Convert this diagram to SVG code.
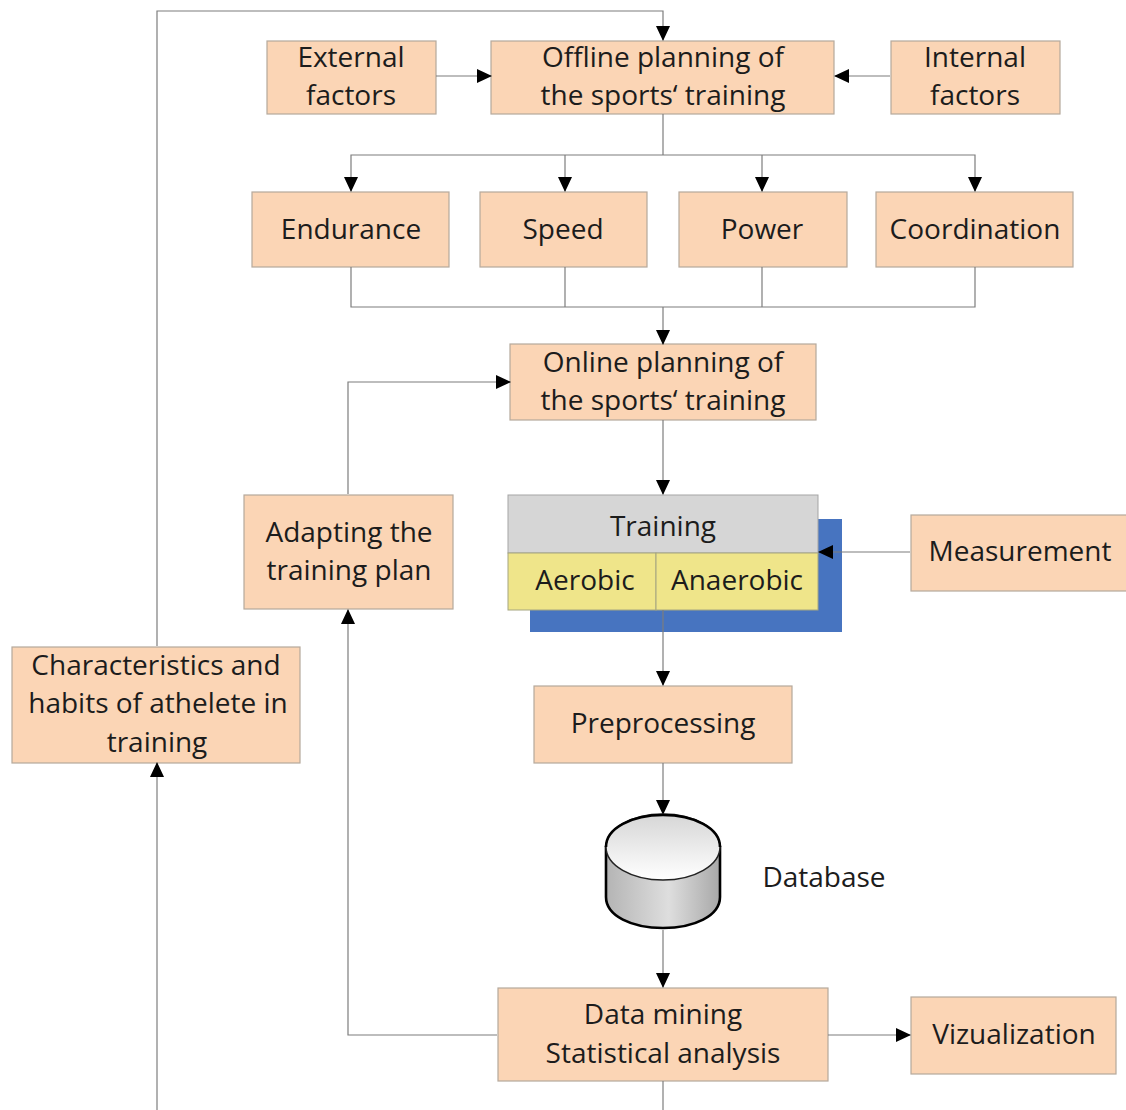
<svg xmlns="http://www.w3.org/2000/svg" width="1126" height="1110" viewBox="0 0 1126 1110">
<style>
.n{fill:#fbd5b5;stroke:#b5a99c;stroke-width:1.2}
.c{fill:none;stroke:#7d7d7d;stroke-width:1.2}
text{font-family:"Open Sans","Noto Sans","Liberation Sans",sans-serif;font-size:28px;fill:#1c1c1c;text-anchor:middle}
</style>
<defs>
<marker id="a" markerUnits="userSpaceOnUse" markerWidth="15" markerHeight="15" refX="14" refY="7.5" orient="auto"><path d="M0 0.5L15 7.5L0 14.5Z" fill="#000"/></marker>
<linearGradient id="top" x1="0" y1="0" x2="0" y2="1"><stop offset="0" stop-color="#d6d6d6"/><stop offset="1" stop-color="#fff"/></linearGradient>
<linearGradient id="side" x1="0" y1="0" x2="1" y2="0"><stop offset="0" stop-color="#b4b4b4"/><stop offset="0.55" stop-color="#dedede"/><stop offset="1" stop-color="#a8a8a8"/></linearGradient>
</defs>
<rect width="1126" height="1110" fill="#fff"/>
<g id="external"><rect class="n" x="267" y="41" width="169" height="73"/><text x="351" y="67">External</text><text x="351" y="105">factors</text></g>
<g id="offline"><rect class="n" x="491" y="41" width="343" height="73"/><text x="663" y="67">Offline planning of</text><text x="663" y="105">the sports‘ training</text></g>
<g id="internal"><rect class="n" x="891" y="41" width="169" height="73"/><text x="975" y="67">Internal</text><text x="975" y="105">factors</text></g>
<g id="endurance"><rect class="n" x="252" y="192" width="197" height="75"/><text x="351" y="239">Endurance</text></g>
<g id="speed"><rect class="n" x="480" y="192" width="167" height="75"/><text x="563" y="239">Speed</text></g>
<g id="power"><rect class="n" x="679" y="192" width="168" height="75"/><text x="762" y="239">Power</text></g>
<g id="coordination"><rect class="n" x="876" y="192" width="197" height="75"/><text x="975" y="239">Coordination</text></g>
<g id="online"><rect class="n" x="510" y="344" width="306" height="76"/><text x="663" y="372">Online planning of</text><text x="663" y="410">the sports‘ training</text></g>
<g id="adapting"><rect class="n" x="244" y="495" width="209" height="114"/><text x="349" y="542">Adapting the</text><text x="349" y="580">training plan</text></g>
<g id="training">
<rect x="530" y="519" width="312" height="113" fill="#4774c0"/>
<rect x="508" y="495" width="310" height="58" fill="#d6d6d6" stroke="#a5a5a5"/>
<rect x="508" y="553" width="148" height="57" fill="#efe58a" stroke="#a5a580"/>
<rect x="656" y="553" width="162" height="57" fill="#efe58a" stroke="#a5a580"/>
<text x="663" y="536">Training</text><text x="585" y="590">Aerobic</text><text x="737" y="590">Anaerobic</text></g>
<g id="measurement"><rect class="n" x="911" y="515" width="216" height="76"/><text x="1020" y="561">Measurement</text></g>
<g id="characteristics"><rect class="n" x="12" y="647" width="288" height="116"/><text x="156" y="675">Characteristics and</text><text x="158" y="713">habits of athelete in</text><text x="157" y="752">training</text></g>
<g id="preprocessing"><rect class="n" x="534" y="686" width="258" height="77"/><text x="663" y="733">Preprocessing</text></g>
<g id="database">
<path d="M606 847V897C606 916 632 928 663 928C694 928 720 916 720 897V847Z" fill="url(#side)" stroke="#000" stroke-width="2.6"/>
<ellipse cx="663" cy="847" rx="57" ry="33" fill="url(#top)" stroke="#222" stroke-width="1.5"/>
<path d="M606 847C606 828 632 815 663 815C694 815 720 828 720 847" fill="none" stroke="#000" stroke-width="2.6"/>
<text x="824" y="887">Database</text></g>
<g id="mining"><rect class="n" x="498" y="988" width="330" height="93"/><text x="663" y="1024">Data mining</text><text x="663" y="1063">Statistical analysis</text></g>
<g id="viz"><rect class="n" x="911" y="997" width="205" height="77"/><text x="1014" y="1044">Vizualization</text></g>
<g id="connectors">
<path class="c" d="M157 646V11H663V40" marker-end="url(#a)"/>
<path class="c" d="M436 76H491" marker-end="url(#a)"/>
<path class="c" d="M890 76H835" marker-end="url(#a)"/>
<path class="c" d="M663 114V155"/>
<path class="c" d="M663 155H351V191" marker-end="url(#a)"/>
<path class="c" d="M663 155H975V191" marker-end="url(#a)"/>
<path class="c" d="M565 155V191" marker-end="url(#a)"/>
<path class="c" d="M762 155V191" marker-end="url(#a)"/>
<path class="c" d="M351 267V307H975V267M565 267V307M762 267V307"/>
<path class="c" d="M663 307V344" marker-end="url(#a)"/>
<path class="c" d="M663 420V494" marker-end="url(#a)"/>
<path class="c" d="M348 494V382H510" marker-end="url(#a)"/>
<path class="c" d="M910 552H819" marker-end="url(#a)"/>
<path class="c" d="M663 610V685" marker-end="url(#a)"/>
<path class="c" d="M663 763V814" marker-end="url(#a)"/>
<path class="c" d="M663 930V987" marker-end="url(#a)"/>
<path class="c" d="M497 1035H348V610" marker-end="url(#a)"/>
<path class="c" d="M828 1035H910" marker-end="url(#a)"/>
<path class="c" d="M157 1110V763" marker-end="url(#a)"/>
<path class="c" d="M663 1081V1110"/>
</g>
</svg>
